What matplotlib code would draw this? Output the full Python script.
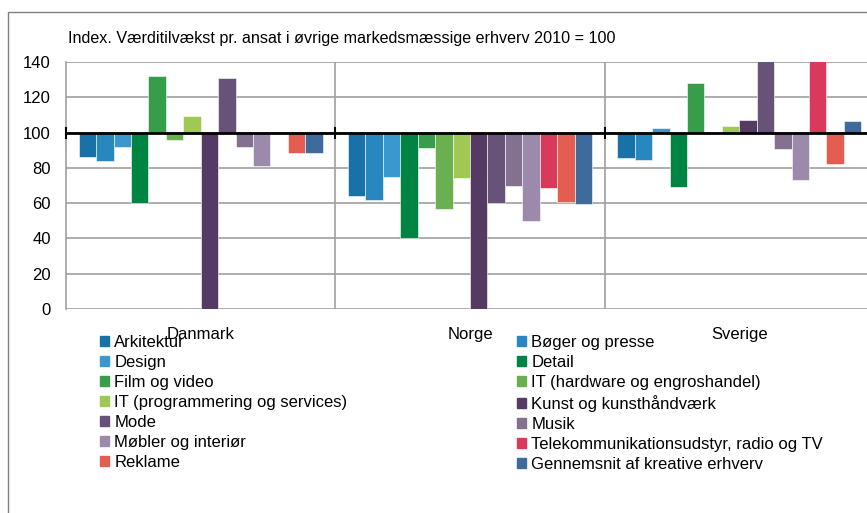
import numpy as np
import matplotlib.pyplot as plt
from matplotlib.patches import Rectangle

plt.rcParams['font.family'] = ['Liberation Sans', 'DejaVu Sans']

countries = ['Danmark', 'Norge', 'Sverige']
series = ['Arkitektur', 'Bøger og presse', 'Design', 'Detail', 'Film og video',
          'IT (hardware og engroshandel)', 'IT (programmering og services)',
          'Kunst og kunsthåndværk', 'Mode', 'Musik', 'Møbler og interiør',
          'Telekommunikationsudstyr, radio og TV', 'Reklame',
          'Gennemsnit af kreative erhverv']
colors = ['#1872A8', '#2787BE', '#3A98CF', '#008443', '#389D4A', '#6AB04F',
          '#A0C855', '#553A64', '#685378', '#84708F', '#9B8AAA', '#D9395A',
          '#E35E50', '#3F6A9C']

# index values per series, order: Danmark, Norge, Sverige
arkitektur = [86, 64, 85.5]
boger = [84, 62, 84.5]
design = [92, 75, 102.7]
detail = [60, 40, 69]
film = [132, 91, 128]
it_hw = [96, 56.6, 100.6]
it_prog = [109.4, 74, 103.8]
kunst = [0, 0, 107.2]
mode = [131, 60, 150]
musik = [92, 70, 90.6]
mobler = [81, 50, 73]
telekom = [np.nan, 68.7, 150]
reklame = [88.7, 60.4, 82]
gennemsnit = [88.7, 59.3, 106.8]
values = [arkitektur, boger, design, detail, film, it_hw, it_prog, kunst,
          mode, musik, mobler, telekom, reklame, gennemsnit]

W, H = 867, 513
fig = plt.figure(figsize=(W / 100, H / 100), dpi=100)
ax = fig.add_axes([66 / W, 1 - 309 / H, 808 / W, 247 / H])

# outer chart frame
fig.patches.append(Rectangle((8 / W, -0.1), 1.2, 1.1 - 12 / H, transform=fig.transFigure,
                             fill=False, edgecolor='#808080', linewidth=1))

x = np.arange(len(countries))
n = len(series)
bw = 0.906 / n
for i, (name, vals, c) in enumerate(zip(series, values, colors)):
    pos = x - 0.453 + bw * (i + 0.5)
    v = np.array(vals, dtype=float)
    ax.bar(pos, v - 100, bottom=100, width=bw, color=c, edgecolor='white',
           linewidth=0.4, zorder=3)

ax.set_xlim(-0.5, 2.5)
ax.set_ylim(0, 140)
ax.set_yticks(range(0, 141, 20))
ax.yaxis.grid(True, color='#A0A0A0', linewidth=1.2, zorder=0)
for sep in [0.5, 1.5]:
    ax.axvline(sep, color='#A0A0A0', linewidth=1.2, zorder=0)
for s in ['top', 'right', 'bottom']:
    ax.spines[s].set_visible(False)
ax.spines['left'].set_color('#A0A0A0')
ax.spines['left'].set_linewidth(1.2)

# baseline at 100 with category tick marks
ax.axhline(100, color='black', linewidth=2, zorder=4)
ax.plot([-0.5, 0.5, 1.5, 2.5], [100] * 4, linestyle='none', marker='|',
        color='black', markersize=9, markeredgewidth=1.5, zorder=4, clip_on=False)

ax.set_xticks(x)
ax.set_xticklabels(countries, fontsize=12)
ax.tick_params(axis='x', length=0, pad=13)
ax.tick_params(axis='y', length=0, pad=11, labelsize=12)

fig.text(68 / W, 1 - 38 / H, 'Index. Værditilvækst pr. ansat i øvrige markedsmæssige erhverv 2010 = 100',
         fontsize=11.6, va='center', ha='left')

handles = [Rectangle((0, 0), 1, 1, color=c) for c in colors]
left = list(range(0, n, 2))
right = list(range(1, n, 2))
for idx, xpos in [(left, 100), (right, 517)]:
    fig.legend([handles[i] for i in idx], [series[i] for i in idx],
               loc='upper left', bbox_to_anchor=(xpos / W, 1 - 335 / H),
               frameon=False, fontsize=12, handlelength=0.55, handleheight=0.55,
               handletextpad=0.3, labelspacing=0.3, borderpad=0, borderaxespad=0)

fig.savefig('out.png', dpi=100)
